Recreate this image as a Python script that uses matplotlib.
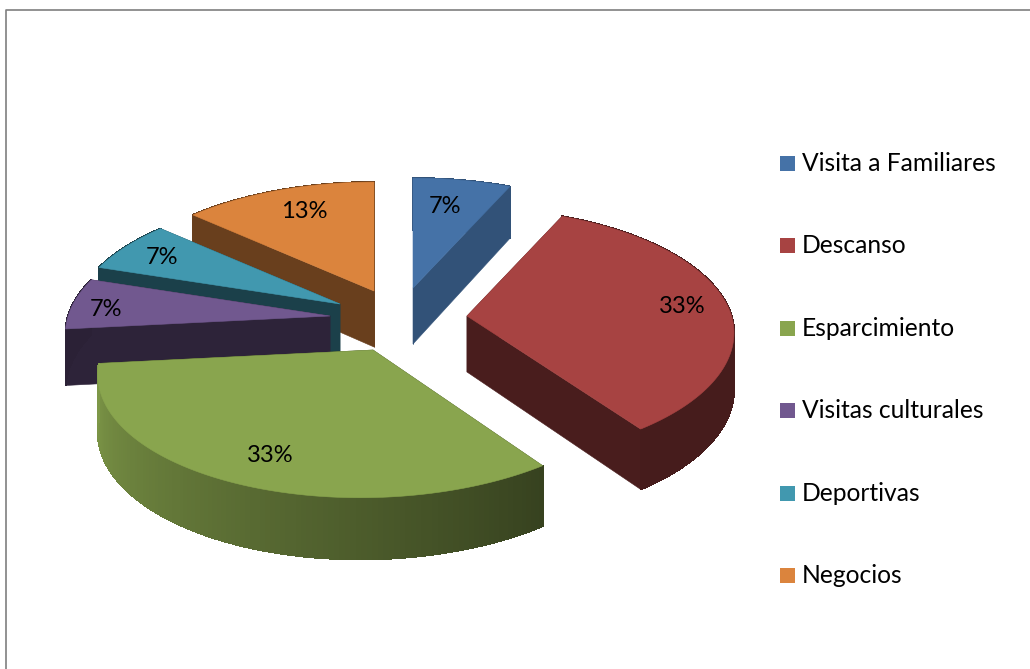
import numpy as np
import matplotlib
matplotlib.use('Agg')
import matplotlib.pyplot as plt
from matplotlib.patches import Polygon, Rectangle

plt.rcParams['font.family'] = ['Lato', 'DejaVu Sans']

categories = ['Visita a Familiares', 'Descanso', 'Esparcimiento',
              'Visitas culturales', 'Deportivas', 'Negocios']
values = [1, 5, 5, 1, 1, 2]
top_colors = ['#4572A7', '#A74342', '#89A54E', '#71588F', '#4198AF', '#DB843D']

# how the slices were pulled apart, px from the pie centre
offsets = [(23, -30), (77, -2), (-17, 32), (-60, -2), (-50, -14), (-16, -27)]
radius_scale = [1.0, 0.98, 1.0, 0.97, 0.98, 0.99]
# the front of the pie leans left a little
skew = [0, 3, 13, 0, 0, 0]
# side shade at the start and end of each slice's rim
rim_shade = [(0.72, 0.72), (0.42, 0.42), (0.40, 0.92), (0.38, 0.38),
             (0.42, 0.42), (0.48, 0.48)]
face_shade = [0.72, 0.44, 0.4, 0.40, 0.42, 0.48]
draw_order = [0, 5, 4, 3, 1, 2]
label_nudge = [(-8, 7), (3, 1), (5, 2), (-12, 4), (-1, 1), (10, 4)]

CX, CY = 390, 318
A, B, K = 270, 126, 0.147
DEPTH = 56


def persp(y):
    return 1.0 / (1.0 + K * y)


def project(angle, r=1.0, lean=0):
    # angle in degrees, clockwise from the top of the pie
    x = r * np.sin(np.radians(angle))
    y = r * np.cos(np.radians(angle))
    s = persp(y)
    return A * x * s + lean * np.minimum(y, 0), -B * y * s, s


def shade(color, f):
    return tuple(c * f for c in matplotlib.colors.to_rgb(color))


fig = plt.figure(figsize=(10.30, 6.69), dpi=100)
ax = fig.add_axes([0, 0, 1, 1])
ax.set_xlim(0, 1030)
ax.set_ylim(669, 0)
ax.axis('off')

# chart frame
ax.plot([6, 6, 1030], [669, 10, 10], color='#7f7f7f', lw=1.2)

total = sum(values)
edges = np.cumsum([0] + values) * 360.0 / total

for i in draw_order:
    a0, a1 = edges[i], edges[i + 1]
    ox = CX + offsets[i][0]
    oy = CY + offsets[i][1]
    r = radius_scale[i]
    angles = np.arange(a0, a1 + 0.5, 1.0)
    px, py, ps = project(angles, r, skew[i])
    px = ox + px
    py = oy + py
    drop = DEPTH * ps ** 0.6

    # the two cut faces, the rim and the top go over whichever is hidden
    side = shade(top_colors[i], face_shade[i])
    for k in [0, -1]:
        face = [(ox, oy), (px[k], py[k]), (px[k], py[k] + drop[k]), (ox, oy + DEPTH)]
        ax.add_patch(Polygon(face, closed=True, fc=side, ec=side, lw=0.4, zorder=2))

    # outer rim, one small quad per degree so it can carry a gradient
    for j in range(len(angles) - 1):
        t = j / max(len(angles) - 2, 1)
        f = rim_shade[i][0] + (rim_shade[i][1] - rim_shade[i][0]) * t
        col = shade(top_colors[i], f)
        quad = [(px[j], py[j]), (px[j + 1], py[j + 1]),
                (px[j + 1], py[j + 1] + drop[j + 1]), (px[j], py[j] + drop[j])]
        ax.add_patch(Polygon(quad, closed=True, fc=col, ec=col, lw=0.8,
                             antialiased=False, zorder=2))

    # top of the slice
    top = [(ox, oy)] + list(zip(px, py))
    ax.add_patch(Polygon(top, closed=True, fc=top_colors[i], ec=top_colors[i],
                         lw=0.4, zorder=2))

    # percentage label
    mid = (a0 + a1) / 2
    lx, ly, _ = project(mid, 0.8, skew[i])
    pct = '{:.0f}%'.format(100.0 * values[i] / total)
    ax.text(ox + lx + label_nudge[i][0], oy + ly + label_nudge[i][1], pct,
            fontsize=17, color='black', ha='center', va='center', zorder=5)

# legend
for i, name in enumerate(categories):
    y = 163.5 + i * 82.4
    ax.add_patch(Rectangle((780, y - 7.5), 15, 15, fc=top_colors[i], ec='none', zorder=3))
    ax.text(802, y, name, fontsize=17.7, color='black', ha='left', va='center', zorder=5)

fig.savefig('out.png', dpi=100)
